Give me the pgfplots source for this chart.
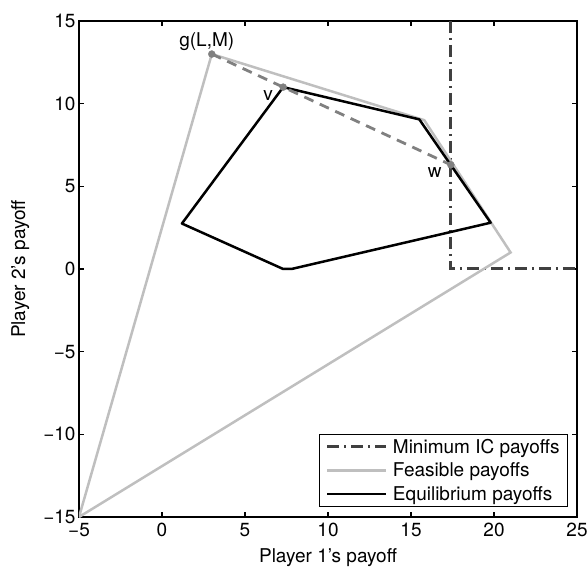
\documentclass[border=0pt]{standalone}
\usepackage{fontspec}
\setmainfont{TeX Gyre Heros}
\usepackage{pgfplots}
\pgfplotsset{compat=1.18}

\definecolor{feasgray}{gray}{0.75}
\definecolor{dashgray}{gray}{0.5}
\definecolor{icgray}{gray}{0.25}

\newcommand{\figfont}{\fontsize{19bp}{22bp}\selectfont}

\begin{document}
\begin{tikzpicture}
\begin{axis}[
    scale only axis,
    width=498bp, height=496bp,
    xmin=-5, xmax=25, ymin=-15, ymax=15,
    xtick={-5,0,...,25}, ytick={-15,-10,...,15},
    xticklabels={−5,0,5,10,15,20,25},
    yticklabels={−15,−10,−5,0,5,10,15},
    tick align=inside, major tick length=5bp,
    every tick/.style={black, line width=1.5bp},
    axis line style={line width=2.5bp},
    tick label style={font=\figfont},
    xticklabel style={yshift=-3bp},
    label style={font=\figfont},
    xlabel={Player 1’s payoff},
    ylabel={Player 2’s payoff},
    x label style={at={(axis description cs:0.5,0)}, anchor=base, yshift=-45bp},
    y label style={at={(axis description cs:-0.118,0.5)}, anchor=center},
    legend style={at={(axis description cs:0.982,0.02)}, anchor=south east,
        draw=black, line width=1bp, font=\figfont, row sep=4bp,
        inner xsep=6bp, inner ysep=3bp},
    legend cell align=left,
    legend image code/.code={\draw[#1] (0bp,0bp) -- (59bp,0bp); \path (62bp,0bp);},
]
% minimum IC payoffs
\addplot[icgray, line width=3bp, dash pattern=on 12bp off 5bp on 2bp off 5bp] coordinates {
    (17.4,15) (17.4,0) (25,0)
};
\addlegendentry{Minimum IC payoffs}

% feasible payoffs
\addplot[feasgray, line width=2.5bp] coordinates {
    (-5,-15) (3,13) (15.8,9.0) (21,1) (-5,-15)
};
\addlegendentry{Feasible payoffs}

% equilibrium payoffs
\addplot[black, line width=2.5bp, line join=round] coordinates {
    (7.3,11) (15.5,9.05) (19.8,2.8) (7.8,0) (7.3,0) (1.2,2.75) (7.3,11)
};
\addlegendentry{Equilibrium payoffs}

% segment from g(L,M) through v to w
\addplot[dashgray, line width=2.8bp, dash pattern=on 10bp off 7bp, forget plot] coordinates {
    (3,13) (7.3,11) (17.4,6.3)
};
\addplot[only marks, mark=*, mark size=3.5bp, dashgray, forget plot] coordinates {
    (3,13) (7.3,11) (17.4,6.3)
};

\node[font=\figfont, inner sep=0pt, anchor=base, xshift=-5bp, yshift=8bp] at (axis cs:3,13) {g(L,M)};
\node[font=\figfont, inner sep=0pt, anchor=base east, xshift=-10bp, yshift=-13bp] at (axis cs:7.3,11) {v};
\node[font=\figfont, inner sep=0pt, anchor=base east, xshift=-9bp, yshift=-13bp] at (axis cs:17.4,6.3) {w};

\coordinate (ll) at (rel axis cs:0,0);
\coordinate (ur) at (rel axis cs:1,1);
\end{axis}
\pgfresetboundingbox
\path ([xshift=-79bp,yshift=-50bp]ll) rectangle ([xshift=10bp,yshift=21bp]ur);
\end{tikzpicture}
\end{document}
